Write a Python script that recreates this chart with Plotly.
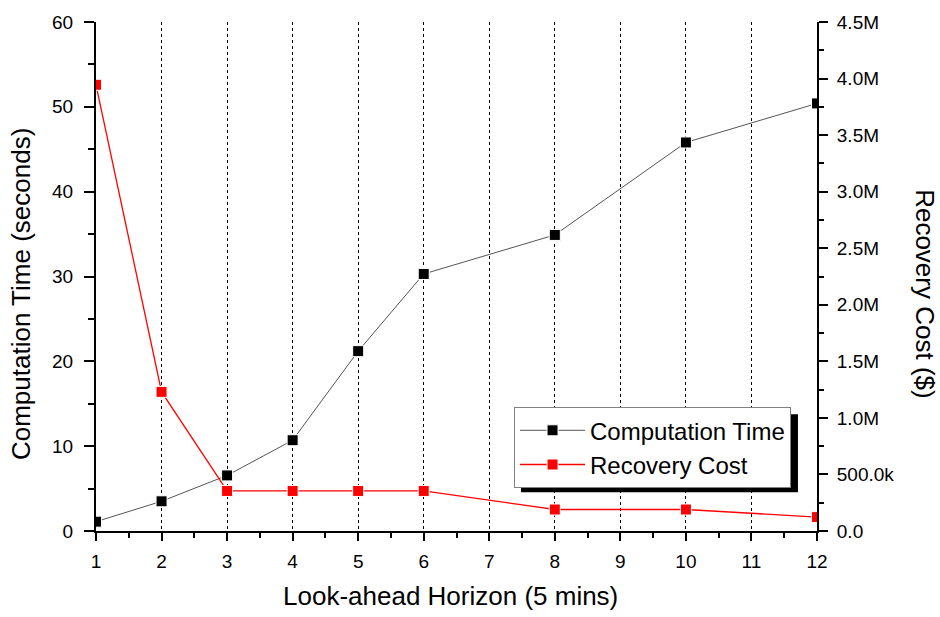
import plotly.graph_objects as go

# ---- data ----
horizon = [1, 2, 3, 4, 5, 6, 8, 10, 12]
computation_time = [1.1, 3.5, 6.55, 10.7, 21.2, 30.3, 34.9, 45.8, 50.4]
recovery_cost = [3945000, 1230000, 354000, 354000, 354000, 354000, 190000, 190000, 123000]

x_ticks = [1, 2, 3, 4, 5, 6, 7, 8, 9, 10, 11, 12]
left_ticks = [0, 10, 20, 30, 40, 50, 60]
right_tickvals = [0, 500000, 1000000, 1500000, 2000000, 2500000, 3000000, 3500000, 4000000, 4500000]
right_ticktext = ["0.0", "500.0k", "1.0M", "1.5M", "2.0M", "2.5M", "3.0M", "3.5M", "4.0M", "4.5M"]

FONT = "Liberation Sans, Arial, sans-serif"

fig = go.Figure()
fig.add_trace(go.Scatter(
    x=horizon, y=computation_time, name="Computation Time",
    mode="lines+markers",
    line=dict(color="#555555", width=1),
    marker=dict(symbol="square", size=11, color="black", line=dict(color="white", width=1)),
    xaxis="x", yaxis="y",
))
fig.add_trace(go.Scatter(
    x=horizon, y=recovery_cost, name="Recovery Cost",
    mode="lines+markers",
    line=dict(color="#ff0000", width=1.3),
    marker=dict(symbol="square", size=11, color="#ff0000", line=dict(color="white", width=1)),
    xaxis="x", yaxis="y2",
))

axis_common = dict(showline=True, linecolor="black", linewidth=2, zeroline=False,
                   tickcolor="black", tickwidth=1.5,
                   tickfont=dict(family=FONT, size=19, color="black"))

fig.update_layout(
    width=940, height=617,
    margin=dict(l=96, r=123, t=17, b=86),
    paper_bgcolor="white", plot_bgcolor="white",
    font=dict(family=FONT, color="black"),
    xaxis=dict(axis_common, range=[1, 12], tickvals=x_ticks, ticks="outside", ticklen=8,
               ticklabelstandoff=4,
               minor=dict(dtick=0.5, ticks="outside", ticklen=5, tickcolor="black", showgrid=False),
               showgrid=True, gridcolor="black", griddash="dot", gridwidth=1),
    xaxis2=dict(showline=True, linecolor="black", linewidth=2, zeroline=False, overlaying="x",
                side="top", anchor="y", range=[1, 12], tickvals=x_ticks, ticks="inside", ticklen=8,
                tickcolor="black", tickwidth=1.5, showticklabels=False, showgrid=False,
                minor=dict(dtick=0.5, ticks="inside", ticklen=5, tickcolor="black")),
    yaxis=dict(axis_common, range=[0, 60], tickvals=left_ticks, ticks="outside", ticklen=10,
               ticklabelstandoff=7,
               minor=dict(dtick=5, ticks="outside", ticklen=6, tickcolor="black"),
               showgrid=False),
    yaxis2=dict(axis_common, range=[0, 4500000], tickvals=right_tickvals, ticktext=right_ticktext,
                overlaying="y", side="right", anchor="x", ticks="outside", ticklen=9,
                ticklabelstandoff=5,
                minor=dict(dtick=250000, ticks="outside", ticklen=5, tickcolor="black"),
                showgrid=False),
    legend=dict(x=0.5798, y=0.2432, xanchor="left", yanchor="top",
                bgcolor="white", bordercolor="#808080", borderwidth=1,
                font=dict(family=FONT, size=24, color="black"),
                itemwidth=65, tracegroupgap=0),
    showlegend=True,
)

# legend drop shadow
fig.add_shape(type="rect", xref="paper", yref="paper",
              x0=0.5895, x1=0.9736, y0=0.0759, y1=0.2296,
              fillcolor="black", line=dict(width=0), layer="above")

# axis titles
fig.add_annotation(text="Look-ahead Horizon (5 mins)", xref="paper", yref="paper",
                   x=0.491, y=-0.128, xanchor="center", yanchor="middle", showarrow=False,
                   font=dict(family=FONT, size=26, color="black"))
fig.add_annotation(text="Computation Time (seconds)", xref="paper", yref="paper",
                   x=-0.103, y=0.465, xanchor="center", yanchor="middle", showarrow=False,
                   textangle=-90, font=dict(family=FONT, size=26, color="black"))
fig.add_annotation(text="Recovery Cost ($)", xref="paper", yref="paper",
                   x=1.15, y=0.465, xanchor="center", yanchor="middle", showarrow=False,
                   textangle=90, font=dict(family=FONT, size=26, color="black"))

fig.write_html("out.html")
